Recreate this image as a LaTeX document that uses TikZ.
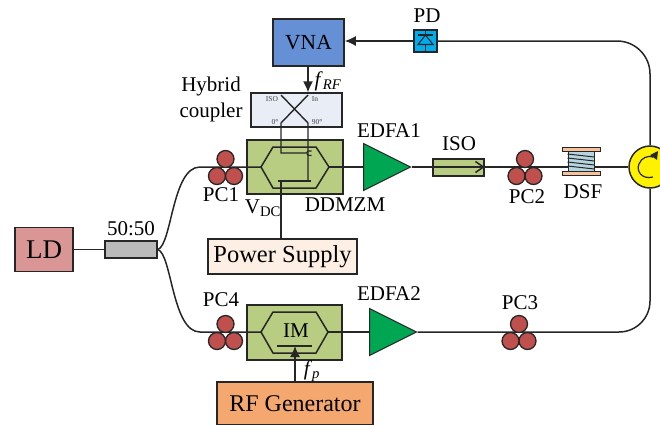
\documentclass[tikz,border=0pt]{standalone}
\usepackage{fontspec}
\setmainfont{Liberation Serif}
\usetikzlibrary{arrows.meta,shapes.geometric}
\definecolor{vnablue}{HTML}{6590D5}
\definecolor{hybgrey}{HTML}{E9EEF6}
\definecolor{modgreen}{HTML}{B8CC82}
\definecolor{ampgreen}{HTML}{00A651}
\definecolor{ldred}{HTML}{D99694}
\definecolor{psucream}{HTML}{FDEFE3}
\definecolor{rforange}{HTML}{F4A870}
\definecolor{pcred}{HTML}{C0504D}
\definecolor{pdblue}{HTML}{00AEEF}
\definecolor{coilblue}{HTML}{B7D5E0}
\definecolor{circyellow}{HTML}{FFF200}
\tikzset{
  box/.style={draw=black!85,line width=1.5pt,inner sep=0pt},
  lbl/.style={inner sep=0pt,font=\fontsize{21}{23}\selectfont},
  tiny/.style={inner sep=0pt,text=black!75,font=\fontsize{7.5}{8}\selectfont},
  fiber/.style={draw=black!85,line width=1.5pt},
  pcball/.style={circle,draw=black!85,fill=pcred,line width=1.3pt,minimum size=17pt,inner sep=0pt},
  edfa/.style={isosceles triangle,isosceles triangle apex angle=53,isosceles triangle stretches,
    draw=black!85,fill=ampgreen,line width=1pt,minimum width=47pt,minimum height=47pt,inner sep=0pt},
  tip/.style={-{Latex[length=11pt,width=10pt]}}
}
\newcommand{\PCset}[2]{%
\node[pcball] (#1top) at ([shift={(0,-8)}]#2) {};
\node[pcball] (#1lft) at ([shift={(-8.5,9)}]#2) {};
\node[pcball] (#1rgt) at ([shift={(8.5,9)}]#2) {};
}
\begin{document}
\begin{tikzpicture}[x=1pt,y=-1pt]
\useasboundingbox (0,0) rectangle (660,424);
\clip (0,0) rectangle (660,424);
% boxes
\node[box,fill=vnablue,minimum width=71pt,minimum height=47pt,font=\fontsize{21.5}{23}\selectfont] (vna) at (308.5,42.5) {VNA};
\node[box,fill=hybgrey,line width=1.2pt,minimum width=91pt,minimum height=34pt] (hybrid) at (296.5,110) {};
\node[box,fill=modgreen,minimum width=96pt,minimum height=54pt] (ddmzm) at (295,167) {};
\node[box,fill=modgreen,minimum width=95pt,minimum height=55pt] (im) at (294.5,332.5) {};
\node[box,fill=ldred,minimum width=58pt,minimum height=44pt,font=\fontsize{27}{29}\selectfont] (ld) at (44,249.5) {LD};
\node[box,fill=black!27,minimum width=52pt,minimum height=17pt] (split) at (131,249.5) {};
\node[box,fill=psucream,minimum width=149pt,minimum height=35pt,font=\fontsize{24.5}{26}\selectfont] (psu) at (282.5,256.5) {Power Supply};
\node[box,fill=rforange,minimum width=156pt,minimum height=43pt,font=\fontsize{24}{26}\selectfont] (rfgen) at (295,403.5) {RF Generator};
\node[box,fill=modgreen,minimum width=51pt,minimum height=17pt] (iso) at (458.5,167.5) {};
\node[box,fill=pdblue,minimum width=23pt,minimum height=22pt] (pd) at (425.5,41) {};
\node[edfa,anchor=lower side] (edfa1) at (363,167) {};
\node[edfa,anchor=lower side] (edfa2) at (369,332) {};
\node[circle,draw=black!85,fill=circyellow,line width=1.5pt,minimum size=42pt,inner sep=0pt] (circ) at (650,167) {};
% fibre spool
\node[draw=black!85,fill=coilblue,line width=1pt,minimum width=26pt,minimum height=21pt,inner sep=0pt] (dsf) at (581,161) {};
\node[draw=black!85,fill=rforange!70,line width=1pt,minimum width=38pt,minimum height=4pt,inner sep=0pt] (dsftop) at (581,149) {};
\node[draw=black!85,fill=rforange!70,line width=1pt,minimum width=38pt,minimum height=4pt,inner sep=0pt] (dsfbot) at (581,173) {};
\foreach \yy in {154,158,162,166}
  \draw[black!85,line width=1pt] (dsf.west |- 0,\yy) -- (dsf.east |- 0,\yy+3);
% points on the modulators and polarization controllers
\coordinate (mzl) at (261,167);
\coordinate (mzr) at (329,167);
\coordinate (iml) at (261,332);
\coordinate (imr) at (328,332);
\coordinate (pc1) at (225.5,167);
\coordinate (pc2) at (525,167);
\coordinate (pc3) at (519,332);
\coordinate (pc4) at (225.5,332);
\coordinate (upbend) at (200,167);
\coordinate (lowbend) at (200,332);
\coordinate (hin) at (308,95);
\coordinate (hiso) at (281,95);
\coordinate (hzero) at (281,123);
\coordinate (hninety) at (308,123);
\coordinate (dcup) at (281,153);
\coordinate (dclow) at (281,181);
\coordinate (imbar) at (295,346);
% fibre path
\draw[fiber] (ld) -- (split);
\draw[fiber] (split.east) .. controls (172,245) and (172,167) .. (upbend) -- (pc1) -- (mzl);
\draw[fiber] (split.east) .. controls (172,254) and (172,332) .. (lowbend) -- (pc4) -- (iml);
\draw[fiber] (mzr) -- (edfa1.lower side);
\draw[fiber] (imr) -- (edfa2.lower side);
\draw[fiber] (edfa1.apex) -- (iso.west |- edfa1.apex);
\draw[fiber] (iso.east |- pc2) -- (pc2) -- (dsf.west |- pc2);
\draw[fiber] (dsf.east |- circ.west) -- (circ.west);
\draw[fiber,rounded corners=31pt] (edfa2.apex) -- (pc3) -- (pc3 -| circ) -- (circ.south);
\draw[fiber,rounded corners=33pt] (pd.east) -- (pd -| circ) -- (circ.north);
\draw[fiber,tip] (pd.west) -- (vna.east |- pd);
\draw[fiber,-{Straight Barb[length=8pt,width=11pt]}] (iso.west |- pc2) -- (iso.east |- pc2);
% modulators
\draw[fiber] (mzl) -- (273,147) -- (316,147) -- (mzr) -- (316,188) -- (273,188) -- cycle;
\draw[fiber] (iml) -- (273,312) -- (316,312) -- (imr) -- (316,353) -- (273,353) -- cycle;
\draw[fiber] (277,346) -- (312,346);
% electrodes
\draw[fiber,tip] (vna.south -| hin) -- (hybrid.north -| hin);
\draw[fiber,line width=1.4pt] (hin) -- (hzero) -- (dcup) -- (306,153);
\draw[fiber,line width=1.4pt] (hiso) -- (hninety) -- (308,180);
\draw[fiber,line width=1.1pt] (311.5,151) .. controls (306,149) and (304,156) .. (311.5,155.5);
\draw[fiber] (278,181) -- (311,181);
\draw[fiber] (dclow) -- (psu.north -| dclow);
\draw[fiber,tip] (rfgen.north -| imbar) -- (imbar);
% photodiode
\draw[black!85,line width=1.1pt] (pd.north) -- ++(0,5);
\draw[black!85,line width=1.1pt] (418,35) -- (433,35);
\draw[black!85,line width=1.1pt] (425.5,35) -- (418,44.5) -- (433,44.5) -- cycle;
\draw[black!85,line width=1.1pt] (pd.south) -- ++(0,-7.5);
% circulator
\draw[black!85,line width=1.2pt] (653,177) .. controls (641,180) and (636,170) .. (639,164) .. controls (641,158) and (648,155) .. (653,157);
\fill[black!85] (658,151) -- (657,160) -- (650,155) -- cycle;
% polarization controllers
\PCset{pca}{pc1}
\PCset{pcb}{pc2}
\PCset{pcc}{pc3}
\PCset{pcd}{pc4}
% labels
\node[lbl] (pdlbl) at (427,16) {PD};
\node[lbl] (hyblbl) at (211,100) {\begin{tabular}{@{}c@{}}Hybrid\\[3pt]coupler\end{tabular}};
\node[lbl] (frflbl) at (328,81) {\textit{f}\textsubscript{\textit{RF}}};
\node[tiny] (isoport) at (272,99) {ISO};
\node[tiny] (inport) at (315,99) {In};
\node[tiny] (zeroport) at (275,122) {0°};
\node[tiny] (ninetyport) at (317,122) {90°};
\node[lbl] (pc1lbl) at (221,195) {PC1};
\node[lbl] (pc2lbl) at (527,197) {PC2};
\node[lbl] (pc3lbl) at (520,303) {PC3};
\node[lbl] (pc4lbl) at (221,300) {PC4};
\node[lbl] (vdclbl) at (263,208) {V\textsubscript{DC}};
\node[lbl] (ddlbl) at (345,205) {DDMZM};
\node[lbl] (e1lbl) at (389,131) {EDFA1};
\node[lbl] (e2lbl) at (389,294) {EDFA2};
\node[lbl] (isolbl) at (459,144) {ISO};
\node[lbl] (dsflbl) at (583,192) {DSF};
\node[lbl] (splitlbl) at (131,229) {50:50};
\node[lbl] (imlbl) at (296,331) {IM};
\node[lbl] (fplbl) at (312,371) {\textit{f}\textsubscript{\textit{p}}};
\end{tikzpicture}
\end{document}
